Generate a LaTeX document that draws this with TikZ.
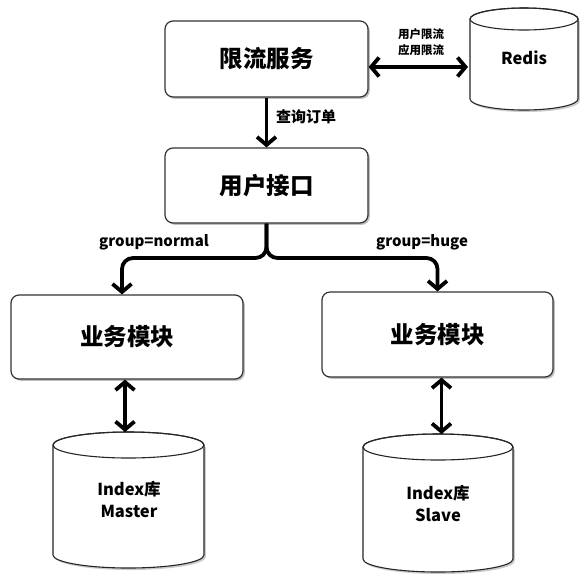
\documentclass[tikz,border=0pt]{standalone}
\usepackage{fontspec}
\setmainfont{Noto Sans CJK SC}
\usetikzlibrary{arrows.meta,shadows}
\begin{document}
\begin{tikzpicture}[x=1pt,y=-1pt,
  box/.style={draw=black!80, line width=1.2pt, rounded corners=8pt, fill=white,
    drop shadow={shadow xshift=1.8pt,shadow yshift=-1.8pt,fill=black!50,opacity=0.5},
    font=\fontsize{23.5}{28}\selectfont\bfseries, inner sep=0pt},
  cyltxt/.style={font=\fontsize{16.5}{22}\selectfont\bfseries, align=center},
  lbl/.style={font=\fontsize{15}{16}\selectfont\bfseries, inner sep=0pt},
  smalllbl/.style={font=\fontsize{11.5}{16}\selectfont\bfseries, align=center, inner sep=0pt},
  conn/.style={line width=3.8pt, -{Straight Barb[length=8pt,width=19pt]}},
  bconn/.style={line width=3.8pt, {Straight Barb[length=8pt,width=19pt]}-{Straight Barb[length=8pt,width=19pt]}},
  cylbody/.style={draw=black!85, line width=1.1pt, fill=white},
  cylshadow/.style={fill=black!40, opacity=0.5}
]
\useasboundingbox[fill=white] (0,0) rectangle (588,582);

% boxes
\node[box, minimum width=203pt, minimum height=76pt] (s1) at (266.5,59) {限流服务};
\node[box, minimum width=203pt, minimum height=75pt] (s2) at (266.5,185.5) {用户接口};
\node[box, minimum width=232pt, minimum height=84pt] (b1) at (127,337) {业务模块};
\node[box, minimum width=231pt, minimum height=85pt] (b2) at (437.5,334.5) {业务模块};

% cylinders: Redis (470-578, 8-110, ry 11)
\fill[cylshadow] (471.8,21) -- (471.8,101) arc[start angle=180,end angle=360,x radius=54pt,y radius=11pt] -- (579.8,21) -- cycle;
\path[cylbody] (470,19) -- (470,99) arc[start angle=180,end angle=360,x radius=54pt,y radius=11pt] -- (578,19) arc[start angle=0,end angle=180,x radius=54pt,y radius=11pt] -- cycle;
\draw[draw=black!85, line width=1.1pt] (524,19) ellipse[x radius=54pt, y radius=11pt];
\node[font=\fontsize{16.5}{20}\selectfont\bfseries] (redis) at (524,58) {Redis};
\coordinate (rL) at (468,67);

% Index Master (53-204, 432-568, ry 13)
\fill[cylshadow] (54.8,447) -- (54.8,557) arc[start angle=180,end angle=360,x radius=75.5pt,y radius=13pt] -- (205.8,447) -- cycle;
\path[cylbody] (53,445) -- (53,555) arc[start angle=180,end angle=360,x radius=75.5pt,y radius=13pt] -- (204,445) arc[start angle=0,end angle=180,x radius=75.5pt,y radius=13pt] -- cycle;
\draw[draw=black!85, line width=1.1pt] (128.5,445) ellipse[x radius=75.5pt, y radius=13pt];
\node[cyltxt] (master) at (129,499) {Index库\\Master};
\coordinate (cLtop) at (128.5,432);

% Index Slave (363-513, 434-572, ry 13)
\fill[cylshadow] (364.8,449) -- (364.8,561) arc[start angle=180,end angle=360,x radius=75pt,y radius=13pt] -- (514.8,449) -- cycle;
\path[cylbody] (363,447) -- (363,559) arc[start angle=180,end angle=360,x radius=75pt,y radius=13pt] -- (513,447) arc[start angle=0,end angle=180,x radius=75pt,y radius=13pt] -- cycle;
\draw[draw=black!85, line width=1.1pt] (438,447) ellipse[x radius=75pt, y radius=13pt];
\node[cyltxt] (slave) at (438,503) {Index库\\Slave};
\coordinate (cRtop) at (438,434);

% connectors
\draw[bconn] (s1.east |- rL) -- (rL);
\node[smalllbl] (l1) at (421,42) {用户限流\\应用限流};

\draw[conn] (s1.south) -- (s2.north);
\node[lbl, anchor=west] (l2) at (276,117) {查询订单};

\coordinate (jy) at (0,258);
\draw[conn, rounded corners=11pt] (s2.south) -- (s2.south |- jy) -| ([xshift=-5pt]b1.north);
\draw[conn, rounded corners=11pt] (s2.south) -- (s2.south |- jy) -| (b2.north);
\node[lbl] (gn) at (154,242) {group=normal};
\node[lbl] (gh) at (422,242) {group=huge};

\draw[bconn] ([xshift=-2pt]b1.south) -- ([xshift=-2pt]b1.south |- cLtop);
\draw[bconn] ([xshift=4pt]b2.south) -- ([xshift=4pt]b2.south |- cRtop);
\end{tikzpicture}
\end{document}
